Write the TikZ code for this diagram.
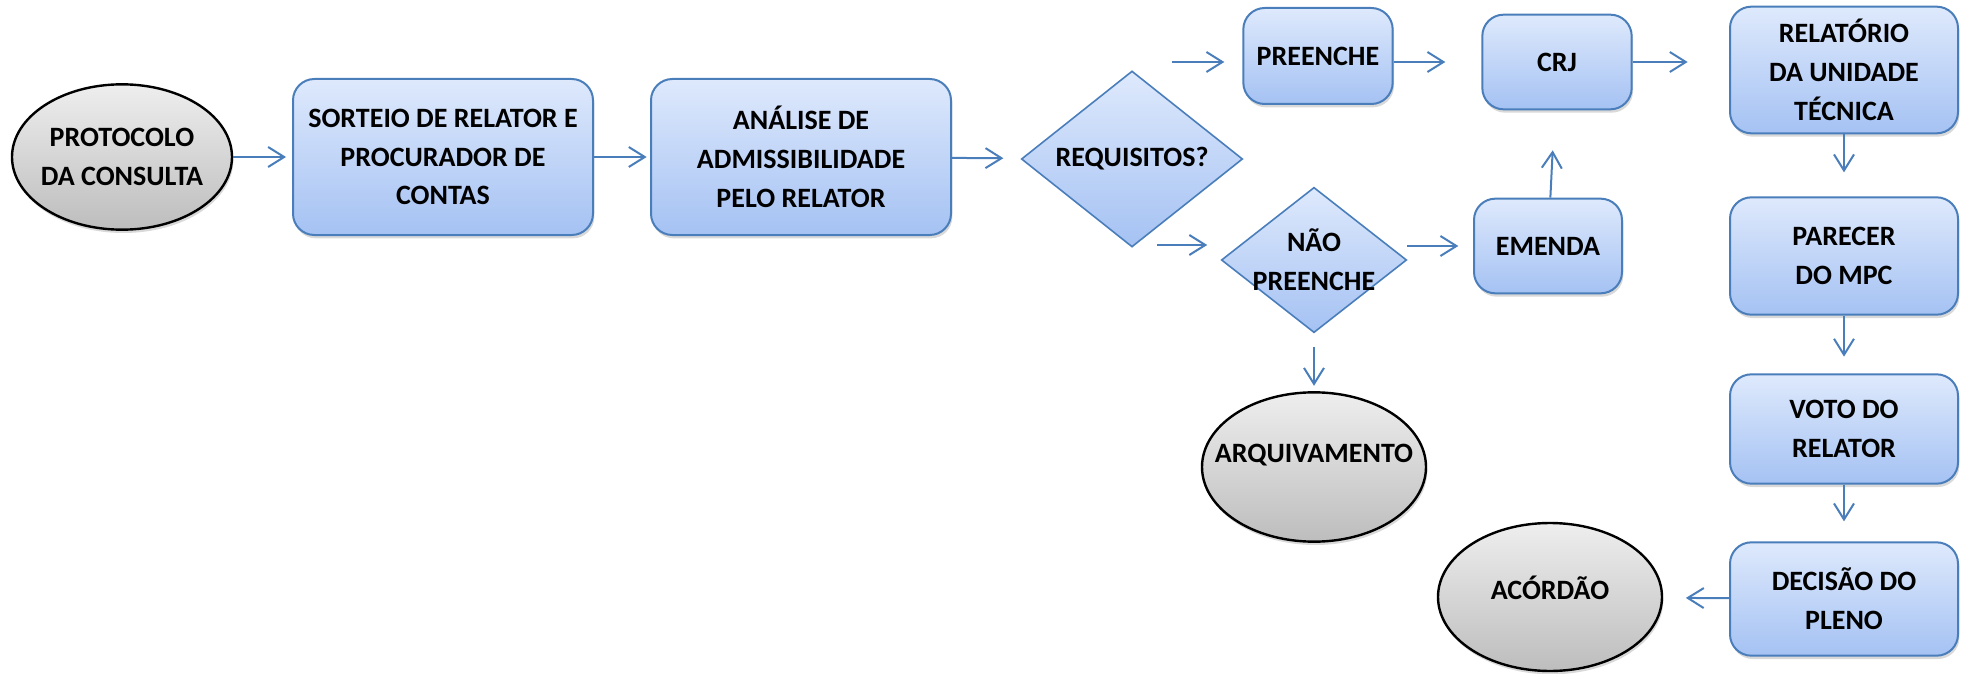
\documentclass[tikz,border=0pt]{standalone}
\usepackage{fontspec}
\setmainfont{Carlito}
\usetikzlibrary{shapes.geometric,arrows.meta,shadows}

\definecolor{linha}{HTML}{4A7EBB}
\definecolor{caixaA}{HTML}{DEE9FC}
\definecolor{caixaB}{HTML}{A5C2F3}
\definecolor{cinzaA}{HTML}{EEEEEE}
\definecolor{cinzaB}{HTML}{BDBDBD}

\tikzset{
  etapa/.style={draw=linha, line width=1.5pt, rounded corners=16pt,
    top color=caixaA, bottom color=caixaB, align=center, inner sep=0pt,
    drop shadow={shadow xshift=1pt, shadow yshift=-2.5pt, opacity=0.3}},
  decisao/.style={diamond, draw=linha, line width=1.2pt,
    top color=caixaA, bottom color=caixaB, align=center, inner sep=-18pt},
  terminal/.style={ellipse, draw=black, line width=1.8pt,
    top color=cinzaA, bottom color=cinzaB, align=center,
    inner xsep=-25pt, inner ysep=-12pt,
    drop shadow={shadow xshift=1pt, shadow yshift=-2.5pt, opacity=0.3}},
  seta/.style={draw=linha, line width=1.5pt,
    -{Straight Barb[length=12pt,width=15pt,line width=1.5pt]}}
}

\begin{document}
\begin{tikzpicture}[x=0.75pt, y=-0.75pt,
    every node/.style={font=\fontsize{21}{29}\selectfont\bfseries}]
  \useasboundingbox (0,0) rectangle (1961,674);

  % fluxo principal
  \node[terminal, minimum width=165pt, minimum height=109pt] (protocolo) at (122,157) {PROTOCOLO\\DA CONSULTA};
  \node[etapa, minimum width=225pt, minimum height=117pt] (sorteio) at (443,157) {SORTEIO DE RELATOR E\\PROCURADOR DE\\CONTAS};
  \node[etapa, minimum width=225pt, minimum height=117pt] (analise) at (801,157) {ANÁLISE DE\\ADMISSIBILIDADE\\PELO RELATOR};
  \node[decisao, minimum width=166pt, minimum height=132pt] (requisitos) at (1132,159) {REQUISITOS?};

  % ramos
  \node[etapa, minimum width=112pt, minimum height=72pt] (preenche) at (1318,56) {PREENCHE};
  \node[decisao, minimum width=139pt, minimum height=109pt] (naopreenche) at (1314,260) {NÃO\\PREENCHE};
  \node[terminal, minimum width=168pt, minimum height=112pt, text height=15pt, text depth=22pt] (arquivamento) at (1314,467) {ARQUIVAMENTO};
  \node[etapa, minimum width=111pt, minimum height=71pt] (emenda) at (1548,246) {EMENDA};
  \node[etapa, minimum width=112pt, minimum height=71pt] (crj) at (1557,62) {CRJ};

  % coluna da direita
  \node[etapa, minimum width=171pt, minimum height=95pt] (relatorio) at (1844,70) {RELATÓRIO\\DA UNIDADE\\TÉCNICA};
  \node[etapa, minimum width=171pt, minimum height=88pt] (parecer) at (1844,256) {PARECER\\DO MPC};
  \node[etapa, minimum width=171pt, minimum height=82pt] (voto) at (1844,429) {VOTO DO\\RELATOR};
  \node[etapa, minimum width=171pt, minimum height=85pt] (decisao) at (1844,599) {DECISÃO DO\\PLENO};
  \node[terminal, minimum width=168pt, minimum height=111pt, text height=15pt, text depth=11pt] (acordao) at (1550,597) {ACÓRDÃO};

  \coordinate (reqSim) at (1172,62);
  \coordinate (reqNao) at (1157,245);

  % setas
  \draw[seta, shorten >=4.5pt] (protocolo) -- (sorteio);
  \draw[seta, shorten >=2.5pt] (sorteio) -- (analise);
  \draw[seta, shorten >=13.5pt] (analise) -- (requisitos);
  \draw[seta, shorten >=13.5pt] (reqSim) -- (reqSim -| preenche.west);
  \draw[seta, shorten >=10pt] (reqNao) -- (reqNao -| naopreenche.west);
  \draw[seta, shorten >=27pt] (preenche.east |- crj) -- (crj.west);
  \draw[seta, shorten >=31pt] (crj.east) -- (crj.east -| relatorio.west);
  \draw[seta, shorten >=11pt] (naopreenche.east |- emenda) -- (emenda.west);
  \draw[seta, shorten >=30pt] (emenda) -- (crj);
  \draw[seta, shorten <=10.5pt, shorten >=4pt] (naopreenche) -- (arquivamento);
  \draw[seta, shorten >=18pt] (relatorio) -- (parecer);
  \draw[seta, shorten >=12.5pt] (parecer) -- (voto);
  \draw[seta, shorten >=15pt] (voto) -- (decisao);
  \draw[seta, shorten >=17pt] (decisao) -- (acordao);
\end{tikzpicture}
\end{document}
